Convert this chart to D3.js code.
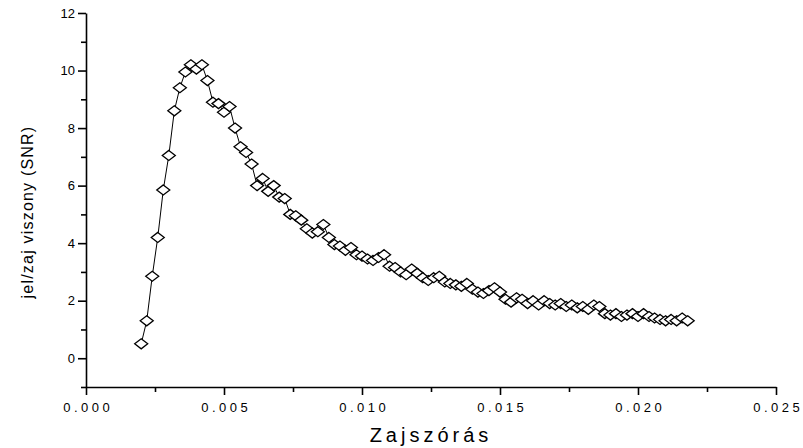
<!DOCTYPE html>
<html>
<head>
<meta charset="utf-8">
<script src="https://cdn.jsdelivr.net/npm/d3@7"></script>
<style>
  html, body { margin: 0; padding: 0; background: #fff; }
  svg { display: block; }
  text { font-family: "Liberation Sans", Arial, sans-serif; fill: #000; }
</style>
</head>
<body>
<svg id="chart" width="803" height="448"></svg>
<script>
// Data
const xStart = 0.0020, xStep = 0.0002;
const snrValues = [
  0.5, 1.3, 2.85, 4.2, 5.85, 7.05, 8.6, 9.4, 9.95, 10.2,
  10.05, 10.2, 9.65, 8.9, 8.85, 8.55, 8.75, 8.0, 7.35, 7.15,
  6.75, 6.0, 6.25, 5.8, 6.0, 5.6, 5.55, 5.0, 4.95, 4.8,
  4.5, 4.35, 4.4, 4.65, 4.2, 3.95, 3.9, 3.75, 3.85, 3.6,
  3.55, 3.45, 3.4, 3.5, 3.6, 3.2, 3.15, 3.0, 2.9, 3.1,
  2.95, 2.8, 2.7, 2.8, 2.85, 2.65, 2.6, 2.55, 2.5, 2.6,
  2.4, 2.3, 2.25, 2.35, 2.45, 2.3, 2.05, 1.95, 2.1, 2.05,
  1.9, 2.0, 1.85, 2.0, 1.9, 1.85, 1.9, 1.8, 1.85, 1.75,
  1.8, 1.7, 1.85, 1.8, 1.55, 1.5, 1.55, 1.45, 1.5, 1.55,
  1.45, 1.55, 1.45, 1.4, 1.35, 1.3, 1.35, 1.3, 1.4, 1.3
];
const zajszoras = snrValues.map((_, i) => +(xStart + i * xStep).toFixed(4));
const xTickValues = [0, 0.005, 0.010, 0.015, 0.020, 0.025];
const xMinorTicks = [0.0025, 0.0075, 0.0125, 0.0175, 0.0225];
const yTickValues = [0, 2, 4, 6, 8, 10, 12];
const yMinorTicks = [-1, 1, 3, 5, 7, 9, 11];
const xTitle = "Zajszórás";
const yTitle = "jel/zaj viszony (SNR)";

const data = zajszoras.map((x, i) => ({ x, y: snrValues[i] }));

const svg = d3.select("#chart");
const x = d3.scaleLinear().domain([0, 0.025]).range([86, 776]);
const y = d3.scaleLinear().domain([-1, 12]).range([387, 13]);

// Axes
const xAxis = svg.append("g").attr("transform", `translate(0,${y(-1)})`);
xAxis.call(d3.axisBottom(x).tickValues(xTickValues).tickFormat(d3.format(".3f")).tickSize(8).tickSizeOuter(0));
const xMinor = svg.append("g").attr("transform", `translate(0,${y(-1)})`);
xMinor.call(d3.axisBottom(x).tickValues(xMinorTicks).tickFormat("").tickSize(5).tickSizeOuter(0));
xMinor.select(".domain").remove();

const yAxis = svg.append("g").attr("transform", `translate(${x(0)},0)`);
yAxis.call(d3.axisLeft(y).tickValues(yTickValues).tickFormat(d3.format("d")).tickSize(8).tickSizeOuter(0));
const yMinor = svg.append("g").attr("transform", `translate(${x(0)},0)`);
yMinor.call(d3.axisLeft(y).tickValues(yMinorTicks).tickFormat("").tickSize(5).tickSizeOuter(0));
yMinor.select(".domain").remove();

svg.selectAll(".domain").attr("stroke", "#000").attr("stroke-width", 1.6);
svg.selectAll(".tick line").attr("stroke", "#000").attr("stroke-width", 1.6);

xAxis.selectAll(".tick text")
  .attr("font-family", "Liberation Sans, Arial, sans-serif")
  .attr("font-size", 13)
  .attr("letter-spacing", "3.5px")
  .attr("dy", "0")
  .attr("y", 25)
  .attr("dx", "1.75px");
yAxis.selectAll(".tick text")
  .attr("font-family", "Liberation Sans, Arial, sans-serif")
  .attr("font-size", 13)
  .attr("x", -11);

// Line
svg.append("path")
  .datum(data)
  .attr("fill", "none")
  .attr("stroke", "#000")
  .attr("stroke-width", 1)
  .attr("d", d3.line().x(d => x(d.x)).y(d => y(d.y)));

// Diamonds
const hw = 6.5, hh = 5;
svg.append("g").selectAll("path")
  .data(data)
  .join("path")
  .attr("transform", d => `translate(${x(d.x)},${y(d.y)})`)
  .attr("d", `M0,${-hh}L${hw},0L0,${hh}L${-hw},0Z`)
  .attr("fill", "#fff")
  .attr("stroke", "#000")
  .attr("stroke-width", 1.3);

// Titles
svg.append("text")
  .attr("x", 431).attr("y", 442)
  .attr("text-anchor", "middle")
  .attr("font-size", 20)
  .attr("letter-spacing", "4px")
  .text(xTitle);

svg.append("text")
  .attr("transform", "translate(33,212) rotate(-90)")
  .attr("text-anchor", "middle")
  .attr("font-size", 16)
  .attr("letter-spacing", "1.2px")
  .text(yTitle);
</script>
</body>
</html>
